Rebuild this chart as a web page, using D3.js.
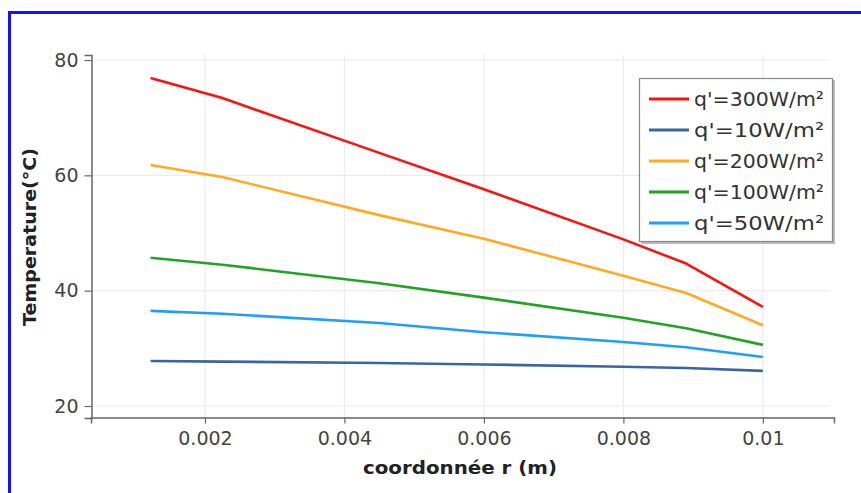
<!DOCTYPE html>
<html><head><meta charset="utf-8">
<script src="https://cdn.jsdelivr.net/npm/d3@7"></script>
<style>html,body{margin:0;padding:0;background:#fff;}svg{display:block;}</style>
</head><body>
<script>
const rValues = [0.00122, 0.00225, 0.0045, 0.006, 0.008, 0.0089, 0.01];
const seriesNames = ["q'=300W/m²", "q'=10W/m²", "q'=200W/m²", "q'=100W/m²", "q'=50W/m²"];
const seriesColors = ["#ff1010", "#3a66a0", "#ffaa22", "#22a322", "#1e9eff"];
const q300 = [76.9, 73.4, 63.9, 57.6, 48.9, 44.7, 37.2];
const q10  = [27.8, 27.7, 27.45, 27.2, 26.8, 26.6, 26.1];
const q200 = [61.8, 59.7, 53.1, 49.0, 42.6, 39.6, 34.0];
const q100 = [45.7, 44.5, 41.3, 38.8, 35.3, 33.5, 30.6];
const q50  = [36.5, 36.0, 34.4, 32.8, 31.1, 30.2, 28.5];
const seriesValues = [q300, q10, q200, q100, q50];
const xTicks = [0.002, 0.004, 0.006, 0.008, 0.01];
const xTickLabels = ["0.002", "0.004", "0.006", "0.008", "0.01"];
const yTicks = [20, 40, 60, 80];
const xTitle = "coordonnée r (m)";
const yTitle = "Temperature(°C)";

const W = 861, H = 493;
const svg = d3.select("body").append("svg").attr("width", W).attr("height", H);

// frame
svg.append("rect").attr("x", 9.5).attr("y", 12.5).attr("width", 900).attr("height", 600)
  .attr("fill", "#fff").attr("stroke", "#1212ff").attr("stroke-width", 3);

const x = d3.scaleLinear().domain([0.000366, 0.01102]).range([91, 834]);
const y = d3.scaleLinear().domain([17.92, 80.87]).range([418, 55]);

// grid
const g = svg.append("g");
g.selectAll(".vg").data(xTicks).join("line")
  .attr("x1", d => x(d)).attr("x2", d => x(d)).attr("y1", 55).attr("y2", 417)
  .attr("stroke", "#ececec").attr("stroke-width", 1.2);
g.selectAll(".hg").data(yTicks).join("line")
  .attr("x1", 91).attr("x2", 830).attr("y1", d => y(d)).attr("y2", d => y(d))
  .attr("stroke", "#ececec").attr("stroke-width", 1.2);

// axes
const font = "'DejaVu Sans', sans-serif";
const xAxis = svg.append("g").attr("transform", "translate(0,417.5)")
  .call(d3.axisBottom(x).tickValues(xTicks).tickFormat((d, i) => xTickLabels[i]).tickSizeOuter(0).tickSize(6).tickPadding(8));
const yAxis = svg.append("g").attr("transform", "translate(91.5,0)")
  .call(d3.axisLeft(y).tickValues(yTicks).tickFormat(d3.format("d")).tickSizeOuter(0).tickSize(7).tickPadding(6));
[xAxis, yAxis].forEach(a => {
  a.select(".domain").attr("stroke", "#666").attr("stroke-width", 1.5);
  a.selectAll(".tick line").attr("stroke", "#666").attr("stroke-width", 1.2);
  a.selectAll(".tick text").attr("fill", "#444").style("font-family", font).style("font-size", "19px");
});
xAxis.selectAll(".tick text").attr("dy", "0.71em");

// titles
svg.append("text").attr("x", 460).attr("y", 474).attr("text-anchor", "middle")
  .style("font-family", font).style("font-size", "18px").style("font-weight", "bold")
  .attr("fill", "#222").attr("textLength", 194).attr("lengthAdjust", "spacingAndGlyphs").text(xTitle);
svg.append("text").attr("transform", "translate(36,237) rotate(-90)").attr("text-anchor", "middle")
  .style("font-family", font).style("font-size", "18px").style("font-weight", "bold")
  .attr("fill", "#222").attr("textLength", 178).attr("lengthAdjust", "spacingAndGlyphs").text(yTitle);

// lines
const line = d3.line().x((d, i) => x(rValues[i])).y(d => y(d));
svg.append("g").selectAll("path").data(seriesValues).join("path")
  .attr("d", d => line(d)).attr("fill", "none")
  .attr("stroke", (d, i) => seriesColors[i]).attr("stroke-width", 2.6)
  .attr("stroke-linejoin", "round");

// legend
const lg = svg.append("g");
lg.append("rect").attr("x", 641).attr("y", 80).attr("width", 194).attr("height", 164)
  .attr("fill", "#bbb");
lg.append("rect").attr("x", 639.5).attr("y", 78.5).attr("width", 193).attr("height", 163)
  .attr("fill", "#fff").attr("stroke", "#888").attr("stroke-width", 1.2);
const rows = lg.selectAll("g.row").data(seriesNames).join("g")
  .attr("transform", (d, i) => `translate(0,${99 + i * 31})`);
rows.append("line").attr("x1", 649).attr("x2", 689).attr("y1", 0).attr("y2", 0)
  .attr("stroke", (d, i) => seriesColors[i]).attr("stroke-width", 3);
rows.append("text").attr("x", 694).attr("y", 0).attr("dy", "0.36em")
  .style("font-family", font).style("font-size", "20px").attr("fill", "#333")
  .attr("textLength", 130).attr("lengthAdjust", "spacingAndGlyphs").text(d => d);
</script>
</body></html>
